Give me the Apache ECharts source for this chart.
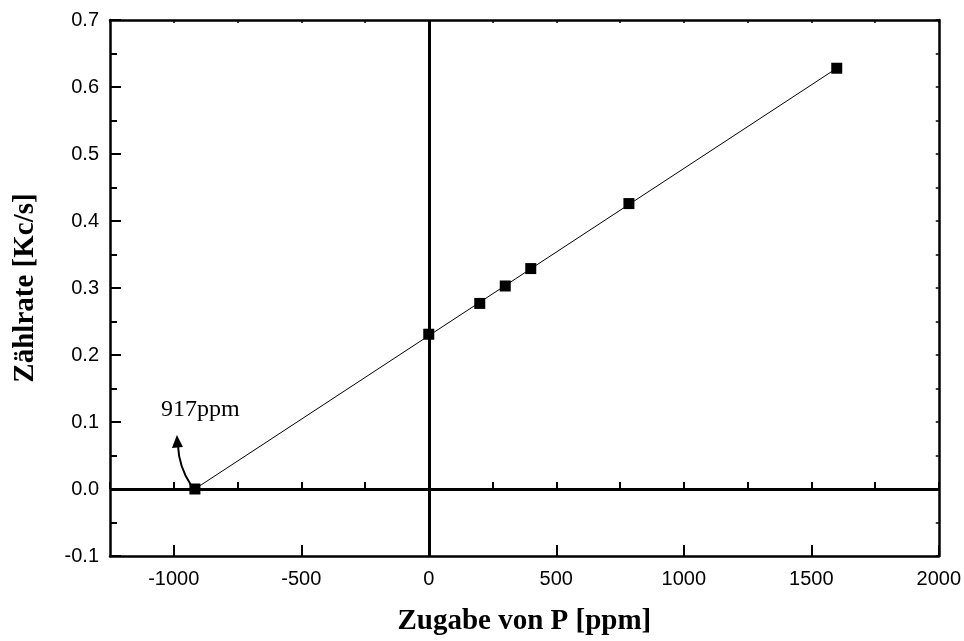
<!DOCTYPE html>
<html>
<head>
<meta charset="utf-8">
<script src="https://cdn.jsdelivr.net/npm/echarts@6/dist/echarts.min.js"></script>
<style>
html,body{margin:0;padding:0;background:#fff;}
#chart{width:964px;height:641px;}
</style>
</head>
<body>
<div id="chart"></div>
<script>
// Data
const pointsX = [-917, 0, 200, 300, 400, 785, 1600];
const pointsY = [0.0, 0.231, 0.277, 0.303, 0.329, 0.426, 0.628];
const fitX = [-917, 1600];
const fitY = [0.0, 0.628];
const xTickLabels = [-1000, -500, 0, 500, 1000, 1500, 2000];
const yTickLabels = [-0.1, 0.0, 0.1, 0.2, 0.3, 0.4, 0.5, 0.6, 0.7];
const annotationText = '917ppm';
const annotationPos = [-1050, 0.119];
const xTitle = 'Zugabe von P [ppm]';
const yTitle = 'Zählrate [Kc/s]';

const chart = echarts.init(document.getElementById('chart'), null, {renderer: 'canvas'});
const X_MIN = -1250, X_MAX = 2000, Y_MIN = -0.1, Y_MAX = 0.7;
const tickFont = {fontFamily: "'Liberation Sans', Arial, sans-serif", fontSize: 20, color: '#000'};
const titleFont = {fontFamily: "'Liberation Serif', 'Times New Roman', serif", fontSize: 29, fontWeight: 'bold', color: '#000'};
const axisLine = {show: true, onZero: false, lineStyle: {color: '#000', width: 2.5}};

chart.setOption({
  animation: false,
  backgroundColor: '#fff',
  grid: {left: 110, right: 24, top: 20, bottom: 85, containLabel: false},
  xAxis: [
    {
      type: 'value', position: 'bottom', min: X_MIN, max: X_MAX, interval: 250,
      axisLine: axisLine,
      axisTick: {show: true, inside: true, length: 11, customValues: xTickLabels, lineStyle: {color: '#000', width: 2}},
      axisLabel: {show: true, customValues: xTickLabels, margin: 13, formatter: v => String(v), ...tickFont},
      splitLine: {show: false},
      name: xTitle, nameLocation: 'middle', nameGap: 51, nameTextStyle: titleFont
    },
    {
      type: 'value', position: 'bottom', min: X_MIN, max: X_MAX, interval: 250,
      axisLine: {show: false},
      axisTick: {show: true, inside: true, length: 7, lineStyle: {color: '#000', width: 2}},
      axisLabel: {show: false}, splitLine: {show: false}
    },
    {
      type: 'value', position: 'top', min: X_MIN, max: X_MAX, interval: 250,
      axisLine: axisLine,
      axisTick: {show: true, inside: true, length: 3, lineStyle: {color: '#000', width: 1.5}},
      axisLabel: {show: false}, splitLine: {show: false}
    }
  ],
  yAxis: [
    {
      type: 'value', position: 'left', min: Y_MIN, max: Y_MAX, interval: 0.1,
      axisLine: axisLine,
      axisTick: {show: true, inside: true, length: 11, lineStyle: {color: '#000', width: 2}},
      minorTick: {show: true, splitNumber: 2, length: 7, lineStyle: {color: '#000', width: 2}},
      axisLabel: {show: true, margin: 11, formatter: v => v.toFixed(1), ...tickFont},
      splitLine: {show: false}, minorSplitLine: {show: false},
      name: yTitle, nameLocation: 'middle', nameGap: 70, nameRotate: 90, nameTextStyle: titleFont
    },
    {
      type: 'value', position: 'right', min: Y_MIN, max: Y_MAX, interval: 0.05,
      axisLine: axisLine,
      axisTick: {show: true, inside: true, length: 3, lineStyle: {color: '#000', width: 1.5}},
      axisLabel: {show: false}, splitLine: {show: false}
    }
  ],
  series: [
    {
      type: 'line', xAxisIndex: 0, yAxisIndex: 0,
      data: fitX.map((x, i) => [x, fitY[i]]),
      showSymbol: false, symbol: 'none',
      lineStyle: {color: '#000', width: 1}, z: 3,
      markLine: {
        silent: true, symbol: 'none', animation: false,
        label: {show: false},
        lineStyle: {color: '#000', width: 3, type: 'solid'},
        data: [{xAxis: 0}, {yAxis: 0}]
      }
    },
    {
      type: 'scatter', xAxisIndex: 0, yAxisIndex: 0,
      data: pointsX.map((x, i) => [x, pointsY[i]]),
      symbol: 'rect', symbolSize: 11,
      itemStyle: {color: '#000', opacity: 1}, z: 5
    }
  ]
});

// annotation: text + curved arrow anchored at the intercept point
const p0 = chart.convertToPixel({xAxisIndex: 0, yAxisIndex: 0}, [pointsX[0], pointsY[0]]);
const pt = chart.convertToPixel({xAxisIndex: 0, yAxisIndex: 0}, annotationPos);
const sx = p0[0] - 4, sy = p0[1] - 4;
const ex = p0[0] - 17, ey = p0[1] - 44;
chart.setOption({
  graphic: [
    {
      type: 'text', left: pt[0], top: pt[1] - 12,
      style: {text: annotationText, fill: '#000', font: "24px 'Liberation Serif', 'Times New Roman', serif"},
      z: 10
    },
    {
      type: 'bezierCurve',
      shape: {x1: sx, y1: sy, x2: ex, y2: ey, cpx1: p0[0] - 16, cpy1: p0[1] - 22},
      style: {stroke: '#000', lineWidth: 2, fill: null}, z: 10
    },
    {
      type: 'polygon',
      shape: {points: [[ex - 1, ey - 10], [ex - 6, ey + 3], [ex + 5, ey + 2]]},
      style: {fill: '#000'}, z: 10
    }
  ]
});
</script>
</body>
</html>
